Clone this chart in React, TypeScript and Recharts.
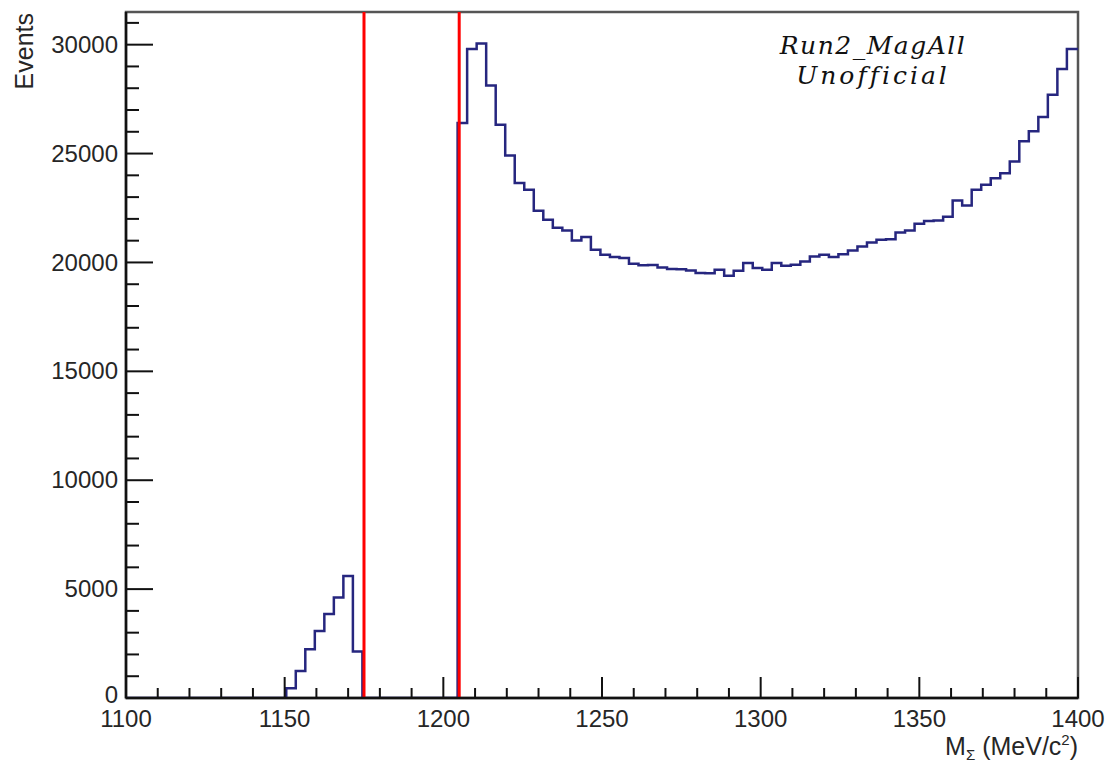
import { LineChart, Line, XAxis, YAxis, ReferenceLine, ReferenceArea } from "recharts";

// Histogram binning (3 MeV bins, first edge 1099.5)
const binStart = 1099.5;
const binWidth = 3;

// Events per bin (100 bins)
const counts = [
  0, 0, 0, 0, 0, 0, 0, 0, 0, 0,
  0, 0, 0, 0, 0, 0, 0, 450, 1240, 2240,
  3080, 3860, 4620, 5600, 2130, 0, 0, 0, 0, 0,
  0, 0, 0, 0, 0, 26400, 29800, 30050, 28130, 26320,
  24910, 23650, 23340, 22370, 21960, 21590, 21470, 21010, 21170, 20580,
  20350, 20250, 20200, 19940, 19870, 19880, 19770, 19700, 19690, 19630,
  19520, 19500, 19660, 19390, 19620, 19970, 19740, 19660, 19970, 19850,
  19890, 20040, 20270, 20350, 20250, 20380, 20550, 20730, 20920, 21040,
  21060, 21380, 21470, 21780, 21900, 21930, 22100, 22850, 22620, 23340,
  23570, 23870, 24100, 24640, 25560, 26020, 26680, 27700, 28880, 29800,
];

// Selection cut lines
const cutLines = [1175, 1205];

// Axis ticks
const xMajor = [1100, 1150, 1200, 1250, 1300, 1350, 1400];
const yMajor = [0, 5000, 10000, 15000, 20000, 25000, 30000];
const xTicks = Array.from({ length: 31 }, (_, i) => 1100 + i * 10);
const yTicks = Array.from({ length: 32 }, (_, i) => i * 1000);

const data = counts.map((c, i) => ({ x: i === 0 ? 1100 : binStart + i * binWidth, count: c }));
data.push({ x: 1400, count: counts[counts.length - 1] });

const font = "'Liberation Sans', Arial, sans-serif";
const textColor = "#262626";

const XTick = (p: any) => {
  const v = p.payload.value;
  const major = xMajor.includes(v);
  return (
    <g>
      <line x1={p.x} x2={p.x} y1={p.y} y2={p.y - (major ? 21 : 10)} stroke="#111" strokeWidth={2} />
      {major && (
        <text x={p.x} y={p.y + 29} textAnchor="middle" fontSize={24} fill={textColor} fontFamily={font}>
          {v}
        </text>
      )}
    </g>
  );
};

const YTick = (p: any) => {
  const v = p.payload.value;
  const major = yMajor.includes(v);
  return (
    <g>
      <line x1={p.x} x2={p.x + (major ? 27 : 13)} y1={p.y} y2={p.y} stroke="#111" strokeWidth={2} />
      {major && (
        <text x={p.x - 8} y={p.y} dy={v === 0 ? "0.2em" : "0.34em"} textAnchor="end" fontSize={24} fill={textColor} fontFamily={font}>
          {v}
        </text>
      )}
    </g>
  );
};

const xTitle = (props: any) => {
  const vb = props.viewBox;
  return (
    <text x={vb.x + vb.width} y={vb.y + 57} textAnchor="end" fontSize={25} fill={textColor} fontFamily={font}>
      M<tspan fontSize={15} dy={5}>Σ</tspan>
      <tspan dy={-5}> (MeV/c</tspan>
      <tspan fontSize={15} dy={-10}>2</tspan>
      <tspan dy={10}>)</tspan>
    </text>
  );
};

const yTitle = (props: any) => {
  const vb = props.viewBox;
  const x = 33;
  const y = vb.y + 1;
  return (
    <text x={x} y={y} transform={`rotate(-90, ${x}, ${y})`} textAnchor="end" fontSize={25} fill={textColor} fontFamily={font}>
      Events
    </text>
  );
};

export default function App() {
  return (
    <div style={{ position: "absolute", left: 0, top: 0, width: 1109, height: 762, background: "#fff" }}>
      <LineChart width={1109} height={762} data={data} margin={{ top: 12, right: 31, bottom: 0, left: 0 }}>
        <ReferenceArea x1={1100} x2={1400} y1={0} y2={31500} fill="none" stroke="#555" strokeWidth={2.5} />
        <XAxis
          type="number"
          dataKey="x"
          domain={[1100, 1400]}
          ticks={xTicks}
          interval={0}
          tick={<XTick />}
          tickSize={0}
          tickMargin={0}
          tickLine={false}
          axisLine={{ stroke: "#111", strokeWidth: 2.5 }}
          height={64}
          label={xTitle}
          allowDataOverflow
        />
        <YAxis
          type="number"
          domain={[0, 31500]}
          ticks={yTicks}
          interval={0}
          tick={<YTick />}
          tickSize={0}
          tickMargin={0}
          tickLine={false}
          axisLine={{ stroke: "#111", strokeWidth: 2.5 }}
          width={126}
          label={yTitle}
          allowDataOverflow
        />
        <Line type="stepAfter" dataKey="count" stroke="#26267f" strokeWidth={2.5} dot={false} isAnimationActive={false} />
        {cutLines.map((v) => (
          <ReferenceLine key={v} x={v} stroke="#ff0000" strokeWidth={3} />
        ))}
      </LineChart>

      {/* Run label */}
      <div
        style={{
          position: "absolute",
          left: 723,
          top: 31,
          width: 300,
          textAlign: "center",
          fontFamily: "'DejaVu Serif', serif",
          fontStyle: "italic",
          fontSize: 25,
          lineHeight: "30px",
          color: "#111",
        }}
      >
        <div style={{ letterSpacing: 1.5 }}>Run2_MagAll</div>
        <div style={{ letterSpacing: 3 }}>Unofficial</div>
      </div>
    </div>
  );
}
